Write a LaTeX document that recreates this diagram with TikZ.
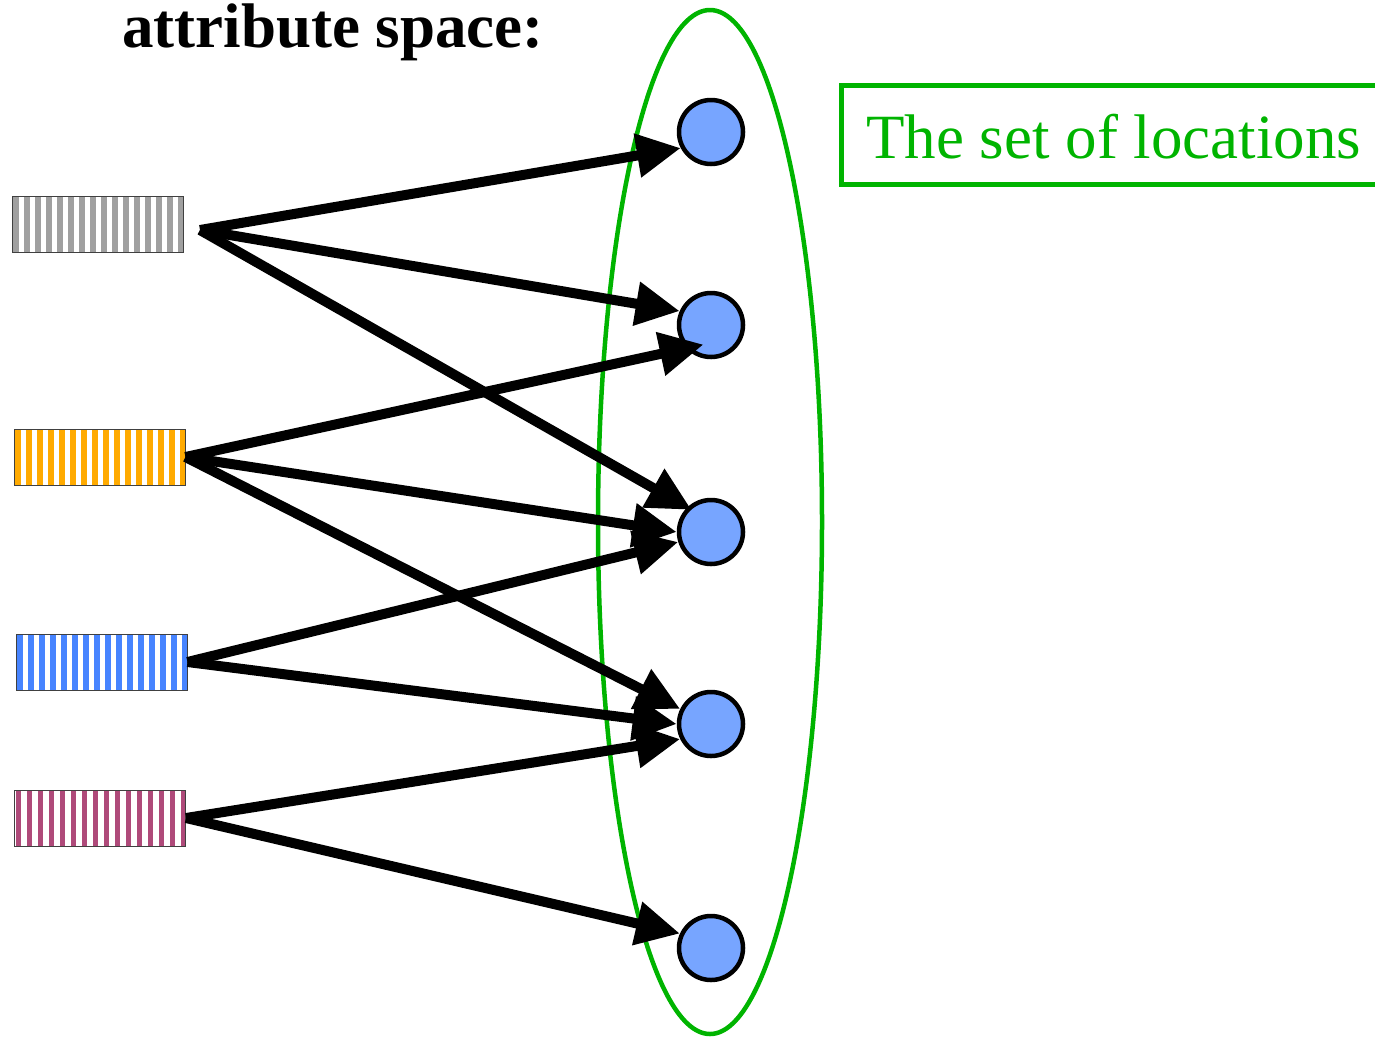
\documentclass[tikz,border=0pt]{standalone}
\usepackage{fontspec}
\setmainfont{Liberation Serif}
\usepackage{xcolor}
\usetikzlibrary{arrows.meta, calc}
\definecolor{locgreen}{HTML}{00B400}
\definecolor{dotblue}{HTML}{77A5FF}
\definecolor{stripegray}{HTML}{A0A0A0}
\definecolor{stripeorange}{HTML}{FFAA00}
\definecolor{stripeblue}{HTML}{4784FF}
\definecolor{stripeplum}{HTML}{AF4A7A}

\begin{document}
\begin{tikzpicture}[x=1pt, y=-1pt,
  attrbox/.style={draw=black!75, line width=1pt, minimum width=171pt, minimum height=56pt,
    inner sep=0pt,
    path picture={\foreach \i in {0,...,15}
      \fill[#1] ([xshift=\i*11pt+1pt]path picture bounding box.south west) rectangle ++(5.5pt,56pt);}},
  location/.style={circle, draw=black, line width=4.5pt, fill=dotblue, minimum size=64pt, inner sep=0pt},
  link/.style={line width=10pt, -{Triangle[length=44pt,width=42pt]}}]
  \useasboundingbox (0,0) rectangle (1375,1037);

  % heading and caption
  \node[anchor=base west, inner sep=0pt, font=\fontsize{63}{63}\selectfont\bfseries] (title) at (122,47) {attribute space:};
  \draw[locgreen, line width=5pt] (1400,85) -- (841,85) -- (841,184) -- (1400,184);
  \node[anchor=base west, inner sep=0pt, locgreen, font=\fontsize{63}{63}\selectfont] (caption) at (866,158) {The set of locations};

  % the set of locations
  \draw[locgreen, line width=4.5pt] (710,522) ellipse [x radius=112, y radius=512];
  \node[location] (c1) at (711,132) {};
  \node[location] (c2) at (711,325) {};
  \node[location] (c3) at (711,532) {};
  \node[location] (c4) at (711,724) {};
  \node[location] (c5) at (711,948) {};

  % attribute vectors
  \node[attrbox=stripegray] (gray) at (97.5,224) {};
  \node[attrbox=stripeorange] (orange) at (99.5,457) {};
  \node[attrbox=stripeblue] (blue) at (101.5,662) {};
  \node[attrbox=stripeplum] (plum) at (100,818) {};
  \coordinate (gout) at (200,230);

  % mappings
  \draw[link] (gout) -- (c1.208);
  \draw[link] (gout) -- (c2.156);
  \draw[link, shorten >=-5pt] (gout) -- (c3.134);
  \draw[link, shorten >=-18pt] (orange.east) -- (c2.223);
  \draw[link] (orange.east) -- (c3.180);
  \draw[link] (orange.east) -- (c4.154);
  \draw[link] (blue.east) -- (c3.197);
  \draw[link] (blue.east) -- (c4.180);
  \draw[link] (plum.east) -- (c4.206);
  \draw[link] (plum.east) -- (c5.155);
\end{tikzpicture}
\end{document}
